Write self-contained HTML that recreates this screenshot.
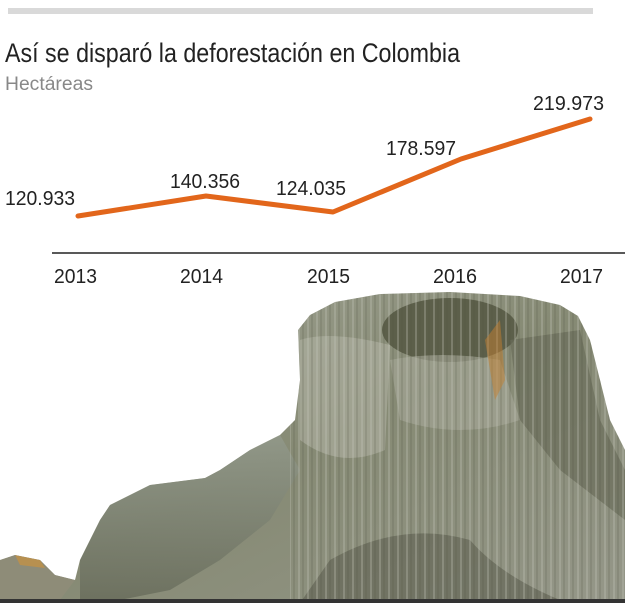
<!DOCTYPE html>
<html><head><meta charset="utf-8"><style>
html,body{margin:0;padding:0;background:#fff;}
svg{display:block;}
text{font-family:"Liberation Sans Narrow","Liberation Sans",sans-serif;}
</style></head><body>
<svg width="625" height="603" viewBox="0 0 625 603" xmlns="http://www.w3.org/2000/svg">
<defs>
<linearGradient id="st" x1="0" y1="0" x2="1" y2="1">
<stop offset="0" stop-color="#a3a698"/>
<stop offset="0.5" stop-color="#868a74"/>
<stop offset="1" stop-color="#959789"/>
</linearGradient>
<linearGradient id="rt" x1="0" y1="0" x2="0" y2="1">
<stop offset="0" stop-color="#939a8c"/>
<stop offset="1" stop-color="#676b5a"/>
</linearGradient>
<pattern id="streak" width="9" height="40" patternUnits="userSpaceOnUse">
<rect width="9" height="40" fill="none"/>
<line x1="2" y1="0" x2="2" y2="40" stroke="#c4c6ba" stroke-width="1.2" opacity="0.5"/>
<line x1="6" y1="0" x2="6" y2="40" stroke="#4f5242" stroke-width="1" opacity="0.35"/>
</pattern>
<clipPath id="cl"><polygon points="0,603 0,560 15,555 40,560 55,575 75,580 80,560 100,520 110,505 150,485 205,478 220,470 250,450 280,435 295,420 300,380 298,330 310,315 335,302 380,294 450,292 520,296 560,305 578,316 590,340 600,380 610,420 625,450 625,603"/></clipPath>
</defs>
<rect x="8" y="8" width="585" height="6" fill="#d9d9d9"/>
<text x="5" y="62" font-size="27" fill="#222" textLength="455" lengthAdjust="spacingAndGlyphs">Así se disparó la deforestación en Colombia</text>
<text x="5" y="90" font-size="19" fill="#888" textLength="88" lengthAdjust="spacingAndGlyphs">Hectáreas</text>
<g font-size="20" fill="#222">
<text x="5" y="205" textLength="70" lengthAdjust="spacingAndGlyphs">120.933</text>
<text x="170" y="188" textLength="70" lengthAdjust="spacingAndGlyphs">140.356</text>
<text x="276" y="195" textLength="70" lengthAdjust="spacingAndGlyphs">124.035</text>
<text x="386" y="155" textLength="70" lengthAdjust="spacingAndGlyphs">178.597</text>
<text x="533" y="110" textLength="71" lengthAdjust="spacingAndGlyphs">219.973</text>
</g>
<polyline points="78,216 206,196 333,212 461,159 590,119" fill="none" stroke="#e2661b" stroke-width="5" stroke-linecap="round" stroke-linejoin="round"/>
<line x1="52" y1="253" x2="625" y2="253" stroke="#222" stroke-width="1.5"/>
<g font-size="20" fill="#222">
<text x="54" y="283" textLength="43" lengthAdjust="spacingAndGlyphs">2013</text>
<text x="180" y="283" textLength="43" lengthAdjust="spacingAndGlyphs">2014</text>
<text x="307" y="283" textLength="43" lengthAdjust="spacingAndGlyphs">2015</text>
<text x="433" y="283" textLength="44" lengthAdjust="spacingAndGlyphs">2016</text>
<text x="560" y="283" textLength="43" lengthAdjust="spacingAndGlyphs">2017</text>
</g>
<g clip-path="url(#cl)">
<rect x="0" y="290" width="625" height="313" fill="url(#st)"/>
<polygon points="80,560 100,520 110,505 150,485 205,478 220,470 250,450 280,435 300,470 270,520 220,560 170,590 120,600 80,600" fill="url(#rt)" opacity="0.8"/>
<ellipse cx="450" cy="330" rx="68" ry="32" fill="#5c5f4a"/>
<path d="M390,360 Q440,350 500,360 L520,420 Q460,440 400,420 Z" fill="#a7a999" opacity="0.6"/>
<path d="M300,340 Q330,330 390,345 L385,450 Q340,470 300,440 Z" fill="#b0b2a3" opacity="0.6"/>
<path d="M510,340 L580,330 L600,420 L625,470 L625,520 L560,470 L520,420 Z" fill="#6a6c5a" opacity="0.7"/>
<path d="M330,560 Q400,520 470,540 Q500,575 560,600 L300,603 Z" fill="#5e5f50" opacity="0.6"/>
<rect x="290" y="290" width="335" height="313" fill="url(#streak)"/>
<path d="M0,560 L15,555 40,560 55,575 75,580 60,600 0,603 Z" fill="#8e8c78"/>
<path d="M15,555 L40,560 45,568 20,565 Z" fill="#c9913f" opacity="0.7"/>
<path d="M485,340 L500,320 505,380 495,400 Z" fill="#c47f30" opacity="0.5"/>
</g>
<rect x="0" y="599" width="625" height="4" fill="#333"/>
</svg>
</body></html>
